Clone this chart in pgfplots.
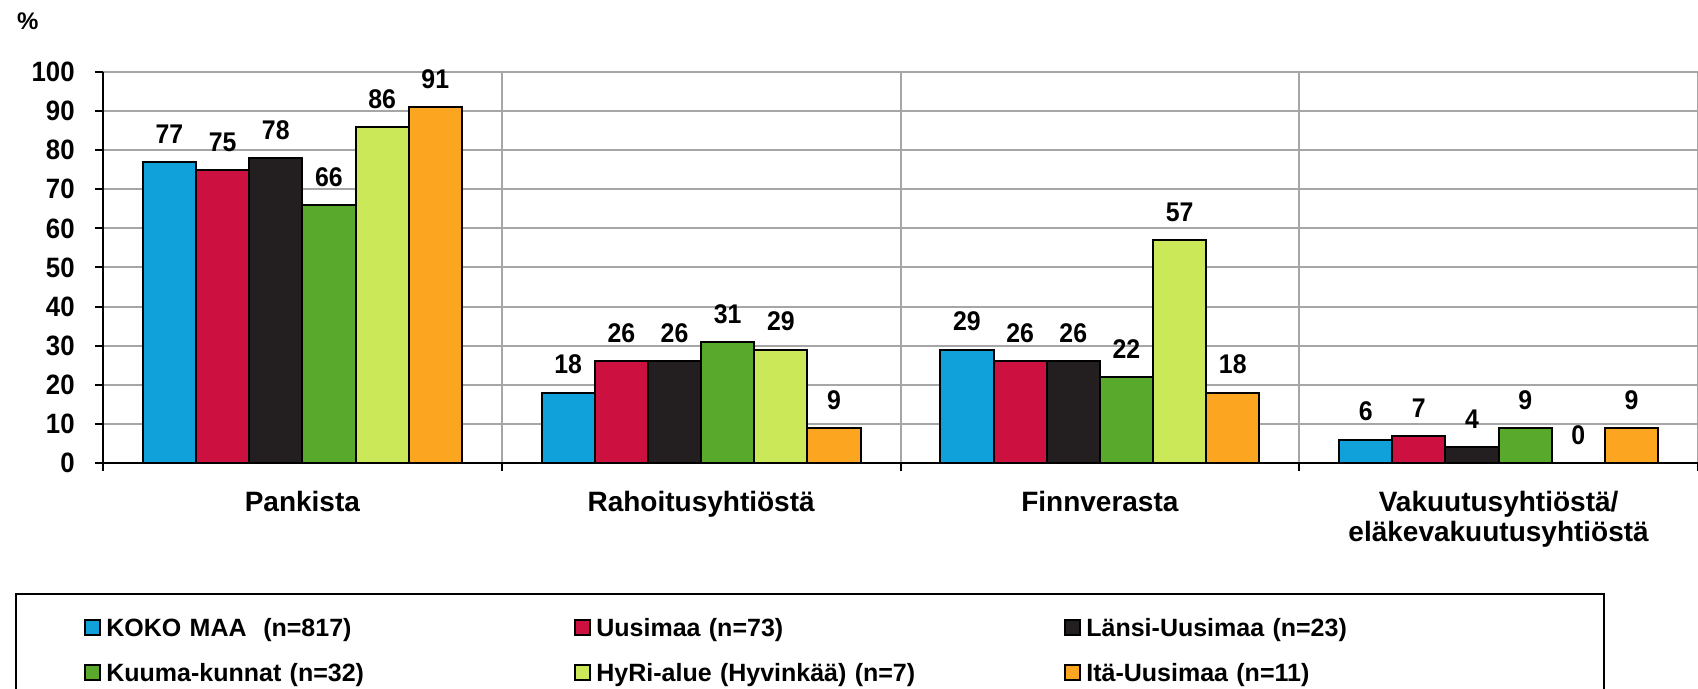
\documentclass[border=0pt]{standalone}
\usepackage{fontspec}
\setmainfont{Liberation Sans}
\newfontfamily\narrowfont{Liberation Sans}[FakeStretch=0.92]
\usepackage{pgfplots}
\pgfplotsset{compat=1.18}
\definecolor{cKoko}{RGB}{16,160,218}
\definecolor{cUus}{RGB}{204,16,64}
\definecolor{cLan}{RGB}{35,31,32}
\definecolor{cKuu}{RGB}{88,169,44}
\definecolor{cHyr}{RGB}{203,232,88}
\definecolor{cIta}{RGB}{251,165,32}
\begin{document}
\begin{tikzpicture}
\begin{axis}[
  at={(0,0)}, anchor=south west,
  scale only axis, width=797.5pt, height=195.5pt,
  xmin=-0.5, xmax=3.5, ymin=0, ymax=100,
  enlargelimits=false,
  ybar=0pt, bar width=0.1333,
  axis lines=left, axis line style={-, line width=1pt, black},
  tick align=outside, major tick length=4pt,
  tick style={black, line width=1pt},
  ytick={0,10,...,100},
  xtick={-0.5,0.5,1.5,2.5,3.5}, xticklabels={{},{},{},{},{}},
  extra x ticks={0,1,2,3},
  extra x tick labels={Pankista,Rahoitusyhtiöstä,Finnverasta,{Vakuutusyhtiöstä/\\eläkevakuutusyhtiöstä}},
  extra x tick style={grid=none, major tick length=0pt,
    tick label style={font=\fontsize{14}{15}\selectfont\bfseries, align=center, anchor=north, inner sep=0pt, yshift=-14pt}},
  xmajorgrids, ymajorgrids,
  major grid style={draw=gray!70, line width=1pt},
  /pgf/number format/assume math mode=true,
  yticklabel style={font=\narrowfont\fontsize{14}{15}\selectfont\bfseries, inner sep=0pt, xshift=-10pt},
  ylabel={\%},
  every axis y label/.style={at={(axis description cs:0,1)}, anchor=base west, xshift=-46.5pt, yshift=21pt, font=\fontsize{12}{14}\selectfont\bfseries},
  nodes near coords,
  every node near coord/.append style={font=\narrowfont\fontsize{13.5}{15}\selectfont\bfseries, inner sep=0pt, yshift=8.7pt},
  legend columns=3,
  legend cell align=left,
  legend style={at={(axis description cs:0,0)}, anchor=north west, xshift=-44pt, yshift=-65pt,
    draw=black, line width=1pt, inner xsep=34pt, inner ysep=10.5pt, row sep=6.5pt,
    nodes={text width=222.8pt, align=left, inner sep=2pt, text height=9pt, text depth=3pt, font=\fontsize{12.5}{14}\selectfont\bfseries},
    /tikz/every odd column/.append style={column sep=0.5pt},
    /tikz/every even column/.append style={column sep=9pt}},
  legend image code/.code={\draw[#1, line width=1.2pt] (0pt,-2pt) rectangle (7.5pt,5.5pt);},
]
\addplot[fill=cKoko, draw=black, line width=1pt] coordinates {(0,77) (1,18) (2,29) (3,6)};
\addplot[fill=cUus, draw=black, line width=1pt] coordinates {(0,75) (1,26) (2,26) (3,7)};
\addplot[fill=cLan, draw=black, line width=1pt] coordinates {(0,78) (1,26) (2,26) (3,4)};
\addplot[fill=cKuu, draw=black, line width=1pt] coordinates {(0,66) (1,31) (2,22) (3,9)};
\addplot[fill=cHyr, draw=black, line width=1pt] coordinates {(0,86) (1,29) (2,57) (3,0)};
\addplot[fill=cIta, draw=black, line width=1pt] coordinates {(0,91) (1,9) (2,18) (3,9)};
\legend{KOKO MAA\ \ (n=817), Uusimaa (n=73), Länsi-Uusimaa (n=23), Kuuma-kunnat (n=32), HyRi-alue (Hyvinkää) (n=7), Itä-Uusimaa (n=11)}
\end{axis}
\pgfresetboundingbox
\path[use as bounding box] (-51.5pt,-113pt) rectangle (797.5pt,231.5pt);
\end{tikzpicture}
\end{document}
